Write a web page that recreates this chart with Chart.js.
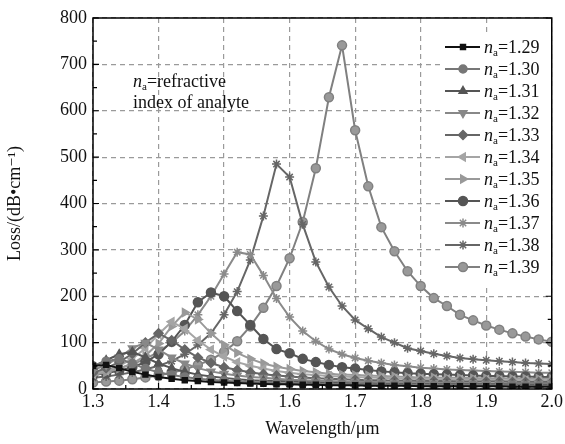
<!DOCTYPE html>
<html>
<head>
<meta charset="utf-8">
<script src="https://cdn.jsdelivr.net/npm/chart.js@4.4.1/dist/chart.umd.min.js"></script>
<style>
  html, body { margin: 0; padding: 0; background: #fff; }
  #wrap { width: 565px; height: 444px; }
</style>
</head>
<body>
<div id="wrap"><canvas id="lossChart" width="565" height="444"></canvas></div>
<script>
// Wavelength (um) sample points
const wavelengths = [1.30, 1.32, 1.34, 1.36, 1.38, 1.40, 1.42, 1.44, 1.46, 1.48, 1.50, 1.52,
    1.54, 1.56, 1.58, 1.60, 1.62, 1.64, 1.66, 1.68, 1.70, 1.72, 1.74, 1.76,
    1.78, 1.80, 1.82, 1.84, 1.86, 1.88, 1.90, 1.92, 1.94, 1.96, 1.98, 2.00];

const indexLabels = ['1.29', '1.30', '1.31', '1.32', '1.33', '1.34', '1.35', '1.36', '1.37', '1.38', '1.39'];

// Loss (dB/cm), one list per analyte index
const loss129 = [50, 52, 45, 37, 31, 26, 22, 19, 17, 15, 14, 13, 12, 11, 10, 10, 9, 9, 8, 8, 8, 7, 7, 7, 7, 6, 6, 6, 6, 6, 6, 6, 5, 5, 5, 5];
const loss130 = [50, 60, 65, 55, 44, 36, 30, 26, 22, 20, 18, 16, 15, 14, 13, 12, 12, 11, 11, 10, 10, 10, 9, 9, 9, 9, 8, 8, 8, 8, 8, 8, 8, 7, 7, 7];
const loss131 = [48, 62, 75, 80, 68, 55, 45, 37, 31, 27, 24, 21, 19, 18, 17, 16, 15, 14, 13, 13, 12, 12, 11, 11, 11, 11, 10, 10, 10, 10, 10, 10, 9, 9, 9, 9];
const loss132 = [40, 52, 68, 88, 100, 85, 68, 55, 45, 38, 33, 29, 26, 24, 22, 20, 19, 18, 17, 16, 16, 15, 15, 14, 14, 14, 13, 13, 13, 13, 12, 12, 12, 12, 12, 12];
const loss133 = [35, 45, 58, 76, 100, 120, 105, 85, 68, 56, 47, 41, 36, 32, 29, 27, 25, 23, 22, 21, 20, 19, 19, 18, 18, 17, 17, 17, 16, 16, 16, 16, 15, 15, 15, 15];
const loss134 = [32, 40, 50, 65, 88, 118, 145, 130, 105, 85, 70, 58, 50, 44, 39, 35, 32, 30, 28, 27, 26, 25, 24, 23, 22, 22, 21, 21, 20, 20, 20, 19, 19, 19, 19, 18];
const loss135 = [30, 36, 44, 55, 72, 98, 135, 165, 150, 120, 95, 78, 65, 55, 48, 43, 39, 36, 33, 31, 30, 29, 28, 27, 26, 25, 25, 24, 24, 23, 23, 23, 22, 22, 22, 22];
const loss136 = [30, 34, 40, 47, 58, 75, 102, 138, 187, 208, 200, 168, 138, 108, 86, 77, 65, 58, 52, 47, 44, 41, 38, 36, 34, 33, 32, 31, 30, 29, 28, 28, 27, 27, 26, 26];
const loss137 = [33, 38, 45, 53, 65, 80, 100, 125, 160, 200, 248, 295, 290, 245, 195, 155, 125, 103, 86, 75, 67, 61, 56, 52, 49, 46, 44, 42, 41, 40, 39, 38, 37, 36, 35, 35];
const loss138 = [24, 27, 31, 36, 42, 50, 60, 75, 95, 120, 160, 210, 278, 373, 485, 457, 355, 274, 220, 179, 149, 130, 112, 100, 88, 82, 76, 71, 67, 64, 62, 60, 58, 56, 55, 54];
const loss139 = [14, 16, 18, 21, 25, 29, 35, 42, 52, 63, 80, 103, 135, 175, 222, 282, 360, 476, 629, 741, 558, 437, 349, 297, 254, 222, 196, 179, 160, 148, 137, 128, 120, 113, 107, 102];

const xTicks = [1.3, 1.4, 1.5, 1.6, 1.7, 1.8, 1.9, 2.0];
const yTicks = [0, 100, 200, 300, 400, 500, 600, 700, 800];

const allLoss = [loss129, loss130, loss131, loss132, loss133, loss134, loss135, loss136, loss137, loss138, loss139];

// grey-scale look of the original figure
const styles = [
    { color: '#111111', point: 'rect', rot: 0, r: 3.5, fill: '#111111' },
    { color: '#777777', point: 'circle', rot: 0, r: 4, fill: '#777777' },
    { color: '#555555', point: 'triangle', rot: 0, r: 4.5, fill: '#555555' },
    { color: '#888888', point: 'triangle', rot: 180, r: 4.5, fill: '#888888' },
    { color: '#666666', point: 'rectRot', rot: 0, r: 4.5, fill: '#666666' },
    { color: '#a5a5a5', point: 'triangle', rot: -90, r: 4.5, fill: '#a5a5a5' },
    { color: '#999999', point: 'triangle', rot: 90, r: 4.5, fill: '#999999' },
    { color: '#555555', point: 'circle', rot: 0, r: 4.5, fill: '#555555' },
    { color: '#8a8a8a', point: 'star', rot: 0, r: 4.5, fill: '#ffffff' },
    { color: '#666666', point: 'star', rot: 0, r: 4.5, fill: '#666666' },
    { color: '#808080', point: 'circle', rot: 0, r: 4.5, fill: '#999999' }
];

const serif = '"Liberation Serif", "DejaVu Serif", serif';

const datasets = allLoss.map((vals, i) => ({
    label: 'na=' + indexLabels[i],
    data: vals.map((v, k) => ({ x: wavelengths[k], y: v })),
    borderColor: styles[i].color,
    backgroundColor: styles[i].fill,
    pointBorderColor: styles[i].color,
    pointBackgroundColor: styles[i].fill,
    pointStyle: styles[i].point,
    pointRotation: styles[i].rot,
    pointRadius: styles[i].r,
    pointBorderWidth: 1.5,
    borderWidth: 2,
    tension: 0
}));

// frame, inner ticks, annotation and legend
const decorPlugin = {
    id: 'decor',
    afterDatasetsDraw(chart) {
        const ctx = chart.ctx;
        const a = chart.chartArea;
        const xs = chart.scales.x, ys = chart.scales.y;
        ctx.save();

        // inner ticks
        ctx.strokeStyle = '#000';
        ctx.lineWidth = 1.2;
        ctx.beginPath();
        for (let v = 0; v <= 800; v += 50) {
            const y = ys.getPixelForValue(v);
            const len = v % 100 === 0 ? 6 : 4;
            ctx.moveTo(a.left, y); ctx.lineTo(a.left + len, y);
            ctx.moveTo(a.right, y); ctx.lineTo(a.right - len, y);
        }
        for (let k = 0; k <= 14; k++) {
            const x = xs.getPixelForValue(1.3 + k * 0.05);
            const len = k % 2 === 0 ? 6 : 4;
            ctx.moveTo(x, a.bottom); ctx.lineTo(x, a.bottom - len);
        }
        ctx.stroke();

        // frame
        ctx.lineWidth = 1.5;
        ctx.strokeRect(a.left, a.top, a.right - a.left, a.bottom - a.top);

        // annotation
        ctx.fillStyle = '#111';
        ctx.textBaseline = 'alphabetic';
        let x = 133;
        ctx.font = 'italic 18px ' + serif;
        ctx.fillText('n', x, 87);
        x += ctx.measureText('n').width;
        ctx.font = '11px ' + serif;
        ctx.fillText('a', x, 90);
        x += ctx.measureText('a').width;
        ctx.font = '18px ' + serif;
        ctx.fillText('=refractive', x, 87);
        ctx.fillText('index of analyte', 133, 108);

        // legend
        ctx.fillStyle = '#fff';
        ctx.fillRect(442, 33, 109, 251);
        chart.data.datasets.forEach((ds, i) => {
            const y = 47 + i * 22;
            ctx.strokeStyle = ds.borderColor;
            ctx.lineWidth = 2;
            ctx.beginPath();
            ctx.moveTo(445, y); ctx.lineTo(480, y);
            ctx.stroke();
            if (Chart.helpers && Chart.helpers.drawPoint) {
                ctx.fillStyle = ds.pointBackgroundColor;
                ctx.strokeStyle = ds.pointBorderColor;
                ctx.lineWidth = 1.5;
                Chart.helpers.drawPoint(ctx, {
                    pointStyle: ds.pointStyle, radius: ds.pointRadius,
                    rotation: ds.pointRotation, borderWidth: 1.5
                }, 463, y);
            }
            ctx.fillStyle = '#111';
            let tx = 484;
            ctx.font = 'italic 18px ' + serif;
            ctx.fillText('n', tx, y + 6);
            tx += ctx.measureText('n').width;
            ctx.font = '11px ' + serif;
            ctx.fillText('a', tx, y + 9);
            tx += ctx.measureText('a').width;
            ctx.font = '18px ' + serif;
            ctx.fillText('=' + indexLabels[i], tx, y + 6);
        });
        ctx.restore();
    }
};

new Chart(document.getElementById('lossChart').getContext('2d'), {
    type: 'line',
    data: { datasets },
    plugins: [decorPlugin],
    options: {
        responsive: false,
        animation: false,
        layout: { padding: { top: 18, right: 12, left: 0, bottom: 0 } },
        plugins: { legend: { display: false }, tooltip: { enabled: false } },
        scales: {
            x: {
                type: 'linear',
                min: 1.3,
                max: 2.0,
                afterFit: s => { s.height = 55; },
                afterBuildTicks: s => { s.ticks = xTicks.map(v => ({ value: v })); },
                ticks: {
                    color: '#111',
                    font: { family: serif, size: 18 },
                    padding: 2,
                    maxRotation: 0,
                    autoSkip: false,
                    callback: v => v.toFixed(1)
                },
                grid: { color: '#9a9a9a', lineWidth: 1.2, drawTicks: false },
                border: { display: false, dash: [5, 4] },
                title: {
                    display: true,
                    text: 'Wavelength/\u03bcm',
                    color: '#111',
                    font: { family: serif, size: 18 },
                    padding: { top: 0, bottom: 4 }
                }
            },
            y: {
                min: 0,
                max: 800,
                afterFit: s => { s.width = 93; },
                afterBuildTicks: s => { s.ticks = yTicks.map(v => ({ value: v })); },
                ticks: {
                    color: '#111',
                    font: { family: serif, size: 18 },
                    padding: 6
                },
                grid: { color: '#9a9a9a', lineWidth: 1.2, drawTicks: false },
                border: { display: false, dash: [5, 4] },
                title: {
                    display: true,
                    text: 'Loss/(dB\u2022cm\u207b\u00b9)',
                    color: '#111',
                    font: { family: serif, size: 18 },
                    padding: { top: 4, bottom: 0 }
                }
            }
        }
    }
});
</script>
</body>
</html>
